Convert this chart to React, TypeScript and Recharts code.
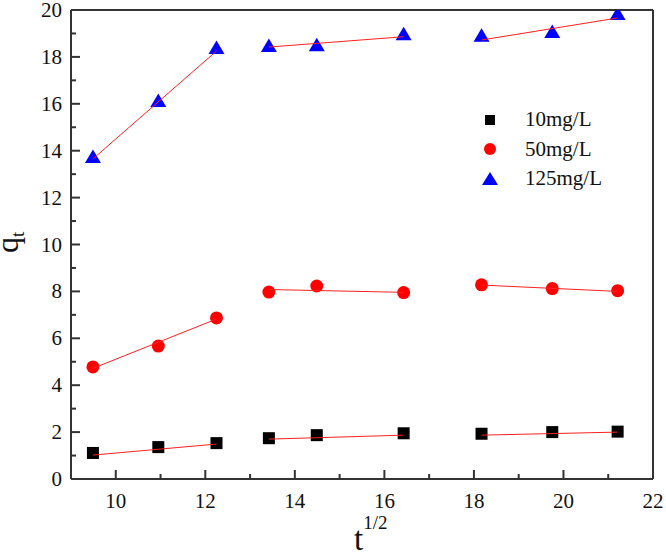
import React from 'react';
import { ScatterChart, Scatter, XAxis, YAxis, ReferenceLine } from 'recharts';

// t^(1/2) values shared by all three series
const tHalf = [9.49, 10.95, 12.25, 13.42, 14.49, 16.43, 18.17, 19.75, 21.21];

const q10 = [1.11, 1.36, 1.53, 1.74, 1.87, 1.95, 1.93, 2.0, 2.02];
const q50 = [4.78, 5.67, 6.87, 7.97, 8.23, 7.95, 8.28, 8.12, 8.03];
const q125 = [13.73, 16.12, 18.38, 18.46, 18.5, 18.97, 18.9, 19.06, 19.83];

// fitted segments: start/end index into tHalf, and the fitted q values at those ends
const segIdx = [[0, 2], [3, 5], [6, 8]];
const fit10 = [[1.02, 1.49], [1.7, 1.87], [1.87, 2.0]];
const fit50 = [[4.72, 6.82], [8.08, 7.96], [8.27, 8.0]];
const fit125 = [[13.65, 18.25], [18.42, 18.86], [18.72, 19.66]];

const xTicks = [10, 11, 12, 13, 14, 15, 16, 17, 18, 19, 20, 21, 22];
const yTicks = [0, 1, 2, 3, 4, 5, 6, 7, 8, 9, 10, 11, 12, 13, 14, 15, 16, 17, 18, 19, 20];

const seriesNames = ['10mg/L', '50mg/L', '125mg/L'];

const FONT = "'Liberation Serif', 'Times New Roman', 'DejaVu Serif', serif";
const AXIS = '#333';
const txt = { fontFamily: FONT };

const toPoints = (ys: number[]) => tHalf.map((x, i) => ({ x, y: ys[i] }));
const toSegs = (fit: number[][]) =>
    segIdx.map(([a, b], k) => [
        { x: tHalf[a], y: fit[k][0] },
        { x: tHalf[b], y: fit[k][1] },
    ]);

const Square = ({ cx, cy }: any) => <rect x={cx - 6} y={cy - 6} width={12} height={12} fill="#000" />;
const Dot = ({ cx, cy }: any) => <circle cx={cx} cy={cy} r={6.5} fill="#ff0000" />;
const Tri = ({ cx, cy }: any) => (
    <polygon points={`${cx},${cy - 7.5} ${cx - 8},${cy + 6} ${cx + 8},${cy + 6}`} fill="#0000ff" />
);
const Nothing = () => <g />;

const XTick = ({ x, y, payload }: any) => {
    const major = payload.value % 2 === 0;
    return (
        <g>
            <line x1={x} y1={y} x2={x} y2={y - (major ? 9 : 5)} stroke={AXIS} strokeWidth={2} />
            {major && (
                <text x={x} y={y + 29} textAnchor="middle" fontSize={21} style={txt} fill="#111">
                    {payload.value}
                </text>
            )}
        </g>
    );
};

const YTick = ({ x, y, payload }: any) => {
    const major = payload.value % 2 === 0;
    return (
        <g>
            <line x1={x} y1={y} x2={x + (major ? 9 : 5)} y2={y} stroke={AXIS} strokeWidth={2} />
            {major && (
                <text x={x - 9} y={y + 7} textAnchor="end" fontSize={21} style={txt} fill="#111">
                    {payload.value}
                </text>
            )}
        </g>
    );
};

const YLabel = () => (
    <text x={18} y={253} transform="rotate(-90, 18, 253)" fontSize={32} style={txt} fill="#111">
        q<tspan fontSize={19} dy={6}>t</tspan>
    </text>
);

const XLabel = () => (
    <text x={354} y={550} fontSize={33} style={txt} fill="#111">
        t<tspan fontSize={19} dy={-21}>1/2</tspan>
    </text>
);

const legendMarks = [
    <rect x={3} y={3} width={10} height={10} fill="#000" />,
    <circle cx={8} cy={8} r={6} fill="#ff0000" />,
    <polygon points="8,1 0,14 16,14" fill="#0000ff" />,
];

export default function App() {
    const segs10 = toSegs(fit10);
    const segs50 = toSegs(fit50);
    const segs125 = toSegs(fit125);
    const allSegs = [...segs10, ...segs50, ...segs125];

    return (
        <div style={{ position: 'absolute', left: 0, top: 0, width: 666, height: 555, background: '#fff', fontFamily: FONT }}>
            <ScatterChart width={666} height={555} margin={{ top: 10, right: 13, left: 0, bottom: 0 }}>
                <XAxis
                    type="number"
                    dataKey="x"
                    domain={[9, 22]}
                    ticks={xTicks}
                    interval={0}
                    allowDataOverflow
                    height={76}
                    tickSize={0}
                    tickMargin={0}
                    tickLine={false}
                    axisLine={{ stroke: AXIS, strokeWidth: 2 }}
                    tick={(p: any) => <XTick {...p} />}
                    label={<XLabel />}
                />
                <YAxis
                    type="number"
                    dataKey="y"
                    domain={[0, 20]}
                    ticks={yTicks}
                    interval={0}
                    allowDataOverflow
                    width={71}
                    tickSize={0}
                    tickMargin={0}
                    tickLine={false}
                    axisLine={{ stroke: AXIS, strokeWidth: 2 }}
                    tick={(p: any) => <YTick {...p} />}
                    label={<YLabel />}
                />
                <ReferenceLine y={20} stroke={AXIS} strokeWidth={2} />
                <ReferenceLine x={22} stroke={AXIS} strokeWidth={2} />
                <Scatter name={seriesNames[0]} data={toPoints(q10)} shape={<Square />} isAnimationActive={false} />
                <Scatter name={seriesNames[1]} data={toPoints(q50)} shape={<Dot />} isAnimationActive={false} />
                <Scatter name={seriesNames[2]} data={toPoints(q125)} shape={<Tri />} isAnimationActive={false} />
                {allSegs.map((s, i) => (
                    <Scatter
                        key={i}
                        data={s}
                        shape={<Nothing />}
                        line={{ stroke: '#ff2020', strokeWidth: 1 }}
                        legendType="none"
                        isAnimationActive={false}
                    />
                ))}
            </ScatterChart>
            <div style={{ position: 'absolute', left: 482, top: 105, fontSize: 21, color: '#111' }}>
                {seriesNames.map((n, i) => (
                    <div key={n} style={{ display: 'flex', alignItems: 'center', height: 29.5 }}>
                        <svg width={16} height={16} style={{ marginRight: 27 }}>
                            {legendMarks[i]}
                        </svg>
                        <span>{n}</span>
                    </div>
                ))}
            </div>
        </div>
    );
}
